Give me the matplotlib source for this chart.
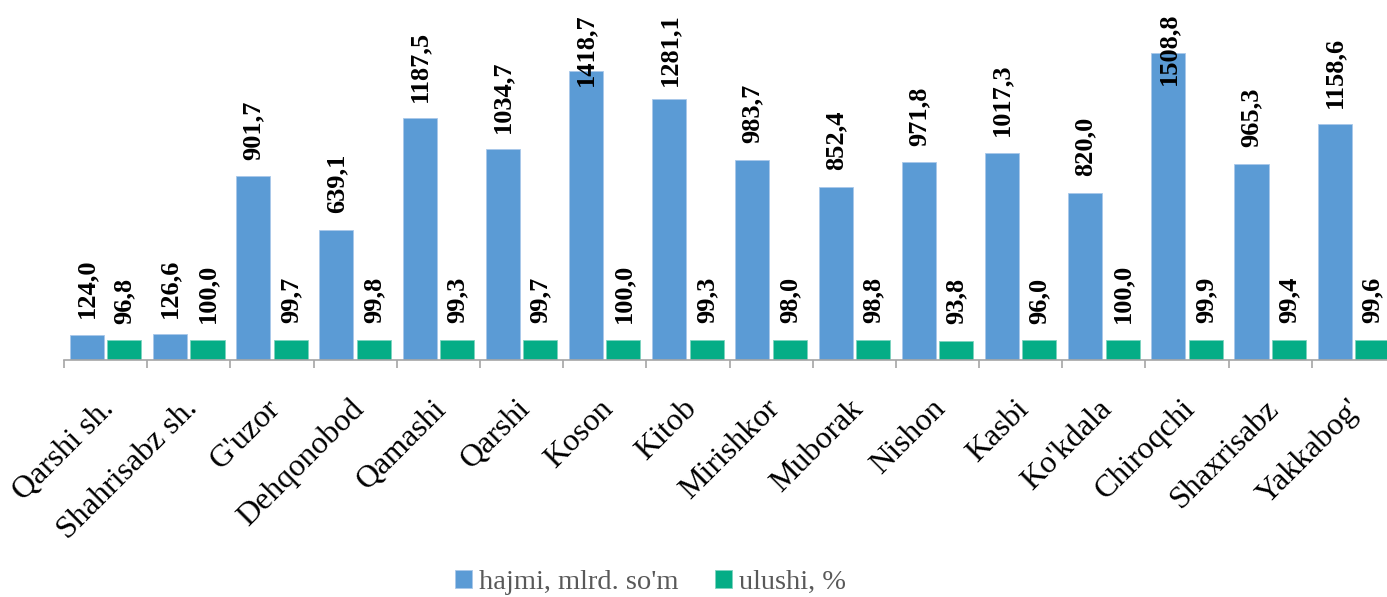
import matplotlib
matplotlib.use("Agg")
import matplotlib.pyplot as plt
import numpy as np

plt.rcParams['font.family'] = ['Liberation Serif', 'DejaVu Serif']

districts = ["Qarshi sh.", "Shahrisabz sh.", "G'uzor", "Dehqonobod", "Qamashi",
             "Qarshi", "Koson", "Kitob", "Mirishkor", "Muborak", "Nishon",
             "Kasbi", "Ko'kdala", "Chiroqchi", "Shaxrisabz", "Yakkabog'"]
hajmi = [124.0, 126.6, 901.7, 639.1, 1187.5, 1034.7, 1418.7, 1281.1,
         983.7, 852.4, 971.8, 1017.3, 820.0, 1508.8, 965.3, 1158.6]
ulushi = [96.8, 100.0, 99.7, 99.8, 99.3, 99.7, 100.0, 99.3,
          98.0, 98.8, 93.8, 96.0, 100.0, 99.9, 99.4, 99.6]
series_names = ["hajmi, mlrd. so'm", "ulushi, %"]

blue = '#5B9BD5'
green = '#05AD86'

fig = plt.figure(figsize=(13.87, 5.97), dpi=100)
ax = fig.add_axes([64/1387, 237/597, 1331/1387, 347/597])

x = np.arange(len(districts))
w = 0.41
b1 = ax.bar(x - 0.225, hajmi, w, color=blue, edgecolor='#A9C8EA', linewidth=0.6,
            label=series_names[0])
b2 = ax.bar(x + 0.225, ulushi, w, color=green, edgecolor='#7ED3BF', linewidth=0.6,
            label=series_names[1])

ax.set_xlim(-0.5, len(districts) - 0.5)
ax.set_ylim(0, 1705)

for s in ['top', 'right', 'left']:
    ax.spines[s].set_visible(False)
ax.spines['bottom'].set_color('#A6A6A6')
ax.spines['bottom'].set_linewidth(1.2)
ax.set_yticks([])
ax.set_xticks(np.arange(-0.5, len(districts), 1.0))
ax.set_xticklabels([])
ax.tick_params(axis='x', length=6, width=1.2, color='#A6A6A6', direction='out')

# value labels
labels = []
for xs, vals in [(x - 0.225, hajmi), (x + 0.225, ulushi)]:
    for xi, v in zip(xs, vals):
        t = ax.annotate(f"{v:.1f}".replace('.', ','), xy=(xi, v), xytext=(0, 12),
                        textcoords='offset points', ha='center', va='bottom',
                        rotation=90, fontsize=19, fontweight='bold', color='black',
                        annotation_clip=False)
        labels.append(t)

# category labels
for xi, name in zip(x, districts):
    ax.annotate(name, xy=(xi, 0), xycoords=('data', 'axes fraction'),
                xytext=(3, -32), textcoords='offset points',
                rotation=45, rotation_mode='anchor', ha='right', va='center',
                fontsize=23, color='black', annotation_clip=False)

# keep value labels inside the plot area
fig.canvas.draw()
top = ax.get_window_extent().y1
for t in labels:
    bb = t.get_window_extent()
    if bb.y1 > top:
        dx, dy = t.xyann
        t.xyann = (dx, dy - (bb.y1 - top) * 72 / fig.dpi)

fig.legend(handles=[b1, b2], labels=series_names, loc='lower center',
           bbox_to_anchor=(0.469, -0.04), ncol=2, frameon=False, fontsize=20.5,
           labelcolor='#595959', handlelength=0.6, handleheight=0.6,
           handletextpad=0.25, columnspacing=1.25)

fig.savefig('out.png', dpi=100)
